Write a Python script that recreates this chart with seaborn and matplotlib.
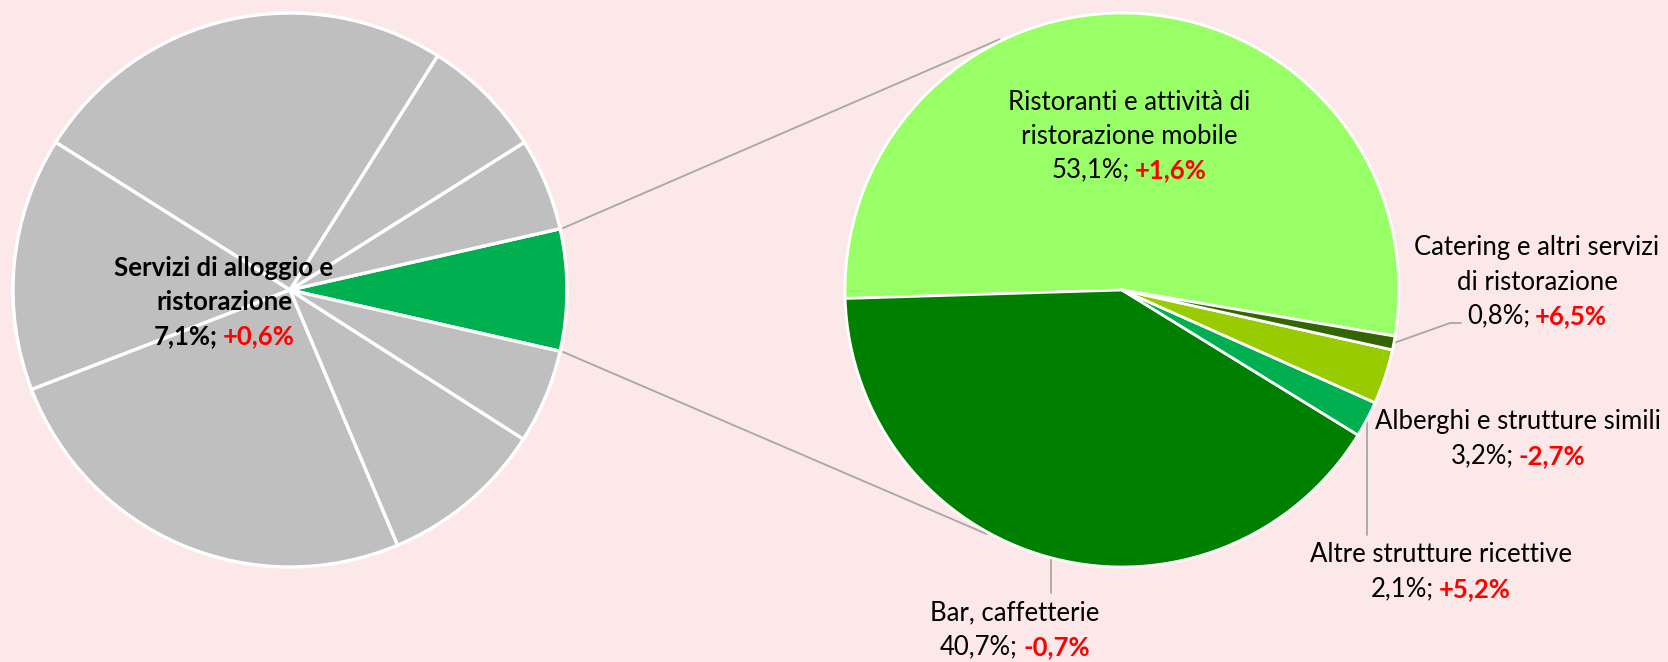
import numpy as np
import matplotlib
matplotlib.use("Agg")
import matplotlib.pyplot as plt
import seaborn as sns

# ── dati ─────────────────────────────────────────────────────────
# torta sinistra: quote dei settori (la prima è "Servizi di alloggio e ristorazione")
left_shares = [7.1, 5.4, 7.1, 25.0, 14.8, 25.5, 9.6, 5.5]
left_colors = ["#00B050"] + ["#BFBFBF"] * 7
left_name = "Servizi di alloggio e\nristorazione"
left_share_lbl = "7,1%;"
left_change = "+0,6%"

# torta destra: dettaglio del settore
right_names = ["Ristoranti e attività di\nristorazione mobile",
               "Bar, caffetterie",
               "Altre strutture ricettive",
               "Alberghi e strutture simili",
               "Catering e altri servizi\ndi ristorazione"]
right_shares = [53.1, 40.7, 2.1, 3.2, 0.8]
right_share_lbls = ["53,1%;", "40,7%;", "2,1%;", "3,2%;", "0,8%;"]
right_changes = ["+1,6%", "-0,7%", "+5,2%", "-2,7%", "+6,5%"]
right_colors = ["#99FF66", "#008000", "#00B050", "#99CC00", "#336600"]

BG = "#FCE8E8"
W, H = 1668, 662
R = 277
C_LEFT = (290, H - 290)
C_RIGHT = (1122, H - 290)
FS = 18.5
LS = 34  # interlinea in pixel

sns.set_theme(style="white", rc={"figure.facecolor": BG, "axes.facecolor": BG})
plt.rcParams["font.family"] = ["Lato", "DejaVu Sans"]

fig = plt.figure(figsize=(W / 100, H / 100), dpi=100)
ax = fig.add_axes([0, 0, 1, 1])

wl, _ = ax.pie(left_shares, colors=left_colors, startangle=-left_shares[0] * 1.8,
               center=C_LEFT, radius=R,
               wedgeprops=dict(edgecolor="white", linewidth=2.4))
wr, _ = ax.pie(right_shares, colors=right_colors, startangle=-9.6,
               center=C_RIGHT, radius=R,
               wedgeprops=dict(edgecolor="white", linewidth=2.0))
ax.set_xlim(0, W)
ax.set_ylim(0, H)
ax.set_aspect("auto")
ax.axis("off")


def on_circle(center, ang, r=R):
    a = np.deg2rad(ang)
    return center[0] + r * np.cos(a), center[1] + r * np.sin(a)


def mid_edge(w):
    return on_circle(w.center, (w.theta1 + w.theta2) / 2, w.r)


# linee di collegamento tra le due torte
g = wl[0]
for a_start, a_end in [(g.theta2, 116), (g.theta1, 241)]:
    p0 = on_circle(C_LEFT, a_start, R + 3)
    p1 = on_circle(C_RIGHT, a_end, R + 2)
    ax.plot([p0[0], p1[0]], [p0[1], p1[1]], color="#A6A6A6", lw=1.3, zorder=0)

# linee guida delle etichette
lc = dict(color="#A6A6A6", lw=1.3, zorder=0)
x0, y0 = mid_edge(wr[4])
ax.plot([x0, 1450, 1461], [y0, H - 323, H - 323], **lc)
x0, y0 = mid_edge(wr[2])
ax.plot([x0, x0], [y0, H - 535], **lc)
x0, y0 = mid_edge(wr[1])
ax.plot([x0, x0], [y0, H - 593], **lc)

fig.canvas.draw()
renderer = fig.canvas.get_renderer()


def label(xc, ytop, name, share, change, bold=False):
    weight = "bold" if bold else "normal"
    lines = name.split("\n")
    for i, ln in enumerate(lines):
        ax.text(xc, H - (ytop + i * LS), ln, ha="center", va="center",
                fontsize=FS, fontweight=weight, color="black")
    y = H - (ytop + len(lines) * LS)
    t1 = ax.text(0, y, share, ha="left", va="center", fontsize=FS,
                 fontweight=weight, color="black")
    t2 = ax.text(0, y, change, ha="left", va="center", fontsize=FS,
                 fontweight="bold", color="red")
    w1 = t1.get_window_extent(renderer).width
    w2 = t2.get_window_extent(renderer).width
    gap = FS * 100 / 72 * 0.2
    start = xc - (w1 + gap + w2) / 2
    t1.set_x(start)
    t2.set_x(start + w1 + gap)


label(224, 268, left_name, left_share_lbl, left_change, bold=True)
label(1129, 102, right_names[0], right_share_lbls[0], right_changes[0])
label(1015, 613, right_names[1], right_share_lbls[1], right_changes[1])
label(1441, 555, right_names[2], right_share_lbls[2], right_changes[2])
label(1518, 422, right_names[3], right_share_lbls[3], right_changes[3])
label(1537, 248, right_names[4], right_share_lbls[4], right_changes[4])

fig.savefig("out.png", dpi=100, facecolor=BG)
